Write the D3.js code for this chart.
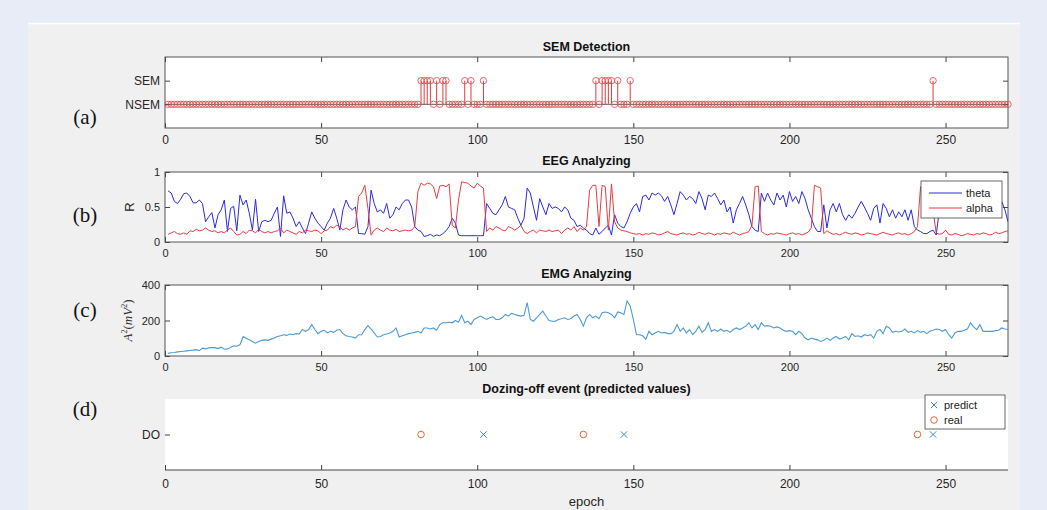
<!DOCTYPE html>
<html lang="en">
<head>
  <meta charset="UTF-8">
  <title>SEM / EEG / EMG / Dozing-off</title>
  <script src="https://d3js.org/d3.v7.min.js"></script>
  <style>
    body { margin: 0; background: #e8ecf6; }
    svg { display: block; font-family: "Liberation Sans", Arial, sans-serif; }
    .tick text { fill: #262626; font-size: 11px; }
    .narrow .tick text { font-family: "Liberation Sans Narrow", "Liberation Sans", Arial, sans-serif; font-size: 12px; }
    .tick line { stroke: #444; }
    .title { font-weight: bold; font-size: 12.5px; fill: #111; text-anchor: middle; }
    .plabel { font-family: "Liberation Serif", "Times New Roman", serif; font-size: 21px; fill: #111; text-anchor: middle; }
    .legend text { font-size: 11px; fill: #222; }
  </style>
</head>
<body>
  <div id="chart"></div>

  <script>
    // epochs 1..270
    const epochs = d3.range(1, 271);
    const xTicks = [0, 50, 100, 150, 200, 250];

    // (a) epochs flagged as SEM
    const semEpochs = [82, 83, 84, 85, 87, 89, 90, 96, 98, 102, 138, 140, 141, 142, 143, 145, 149, 246];

    // (b) EEG ratio per epoch
    const theta = [
      0.73,0.70,0.58,0.55,0.61,0.69,0.70,0.65,0.56,0.56,
      0.60,0.55,0.29,0.36,0.42,0.20,0.39,0.46,0.60,0.15,
      0.48,0.51,0.16,0.67,0.53,0.60,0.41,0.17,0.61,0.15,
      0.29,0.31,0.29,0.31,0.41,0.50,0.08,0.66,0.41,0.43,
      0.34,0.22,0.29,0.20,0.12,0.27,0.43,0.34,0.27,0.22,
      0.17,0.27,0.34,0.48,0.34,0.17,0.46,0.60,0.50,0.46,
      0.50,0.12,0.12,0.11,0.22,0.74,0.55,0.43,0.46,0.41,
      0.55,0.34,0.39,0.50,0.46,0.55,0.60,0.60,0.50,0.22,
      0.17,0.15,0.08,0.09,0.11,0.08,0.10,0.09,0.12,0.16,
      0.22,0.34,0.27,0.10,0.09,0.09,0.09,0.09,0.09,0.09,
      0.09,0.09,0.55,0.48,0.41,0.39,0.46,0.53,0.65,0.50,
      0.48,0.46,0.34,0.24,0.34,0.77,0.70,0.50,0.31,0.62,
      0.50,0.39,0.55,0.48,0.50,0.48,0.43,0.50,0.46,0.34,
      0.31,0.22,0.24,0.20,0.17,0.12,0.10,0.20,
      0.11,0.15,0.20,0.24,0.10,0.39,0.27,0.22,0.20,0.29,
      0.41,0.50,0.55,0.43,0.65,0.67,0.60,0.70,0.67,0.70,
      0.66,0.58,0.65,0.53,0.39,0.55,0.72,0.67,0.60,0.65,
      0.62,0.55,0.72,0.62,0.46,0.67,0.65,0.70,0.62,0.53,
      0.60,0.43,0.50,0.27,0.46,0.55,0.65,0.53,0.39,0.22,
      0.17,0.15,0.70,0.58,0.70,0.60,0.53,0.70,0.60,0.67,
      0.50,0.72,0.58,0.65,0.55,0.72,0.62,0.46,0.34,0.22,
      0.15,0.15,0.53,0.20,0.46,0.55,0.43,0.55,0.39,0.31,
      0.39,0.34,0.41,0.50,0.58,0.50,0.41,0.31,0.48,0.53,
      0.27,0.55,0.48,0.36,0.46,0.34,0.43,0.36,0.46,0.31,
      0.46,0.22,0.17,0.15,0.12,0.12,0.15,0.17,0.10,0.45,
      0.55,0.52,0.60,0.48,0.56,0.62,0.50,0.58,0.52,0.60,
      0.55,0.47,0.58,0.52,0.50,0.45,0.50,0.55,0.61,0.58,
      0.46,0.29
    ];
    const alpha = [
      0.11,0.13,0.15,0.12,0.11,0.13,0.11,0.16,0.15,0.18,
      0.16,0.17,0.20,0.17,0.15,0.16,0.13,0.15,0.13,0.17,
      0.20,0.15,0.10,0.11,0.15,0.12,0.17,0.16,0.13,0.18,
      0.15,0.13,0.15,0.13,0.15,0.16,0.20,0.13,0.17,0.15,
      0.13,0.11,0.15,0.13,0.17,0.16,0.15,0.17,0.16,0.12,
      0.16,0.17,0.22,0.20,0.24,0.22,0.17,0.20,0.17,0.20,
      0.22,0.65,0.70,0.81,0.48,0.10,0.17,0.20,0.17,0.15,
      0.20,0.17,0.16,0.18,0.15,0.16,0.17,0.16,0.17,0.22,
      0.72,0.84,0.81,0.84,0.83,0.79,0.62,0.80,0.81,0.79,
      0.83,0.24,0.20,0.60,0.86,0.85,0.84,0.80,0.77,0.84,
      0.80,0.77,0.15,0.20,0.17,0.22,0.20,0.17,0.16,0.22,
      0.20,0.17,0.20,0.24,0.15,0.12,0.15,0.17,0.13,0.17,
      0.16,0.15,0.17,0.15,0.16,0.17,0.12,0.17,0.20,0.17,
      0.22,0.15,0.20,0.17,0.22,0.74,0.81,0.81,
      0.22,0.81,0.79,0.17,0.83,0.29,0.20,0.17,0.16,0.15,
      0.13,0.12,0.11,0.12,0.10,0.12,0.11,0.13,0.12,0.10,
      0.11,0.13,0.15,0.12,0.11,0.10,0.12,0.13,0.11,0.12,
      0.10,0.11,0.14,0.12,0.11,0.13,0.12,0.10,0.12,0.11,
      0.13,0.12,0.11,0.14,0.12,0.10,0.12,0.13,0.15,0.24,
      0.79,0.80,0.15,0.12,0.10,0.12,0.11,0.13,0.12,0.11,
      0.10,0.12,0.13,0.11,0.12,0.10,0.12,0.14,0.20,0.81,
      0.79,0.77,0.12,0.16,0.13,0.11,0.12,0.10,0.12,0.14,
      0.12,0.11,0.13,0.12,0.10,0.11,0.13,0.12,0.11,0.10,
      0.12,0.14,0.12,0.11,0.10,0.12,0.13,0.11,0.12,0.10,
      0.12,0.15,0.22,0.79,0.80,0.80,0.79,0.45,0.13,0.11,
      0.12,0.17,0.11,0.10,0.12,0.11,0.09,0.10,0.12,0.11,
      0.10,0.12,0.11,0.13,0.12,0.10,0.11,0.14,0.12,0.13,
      0.15,0.16
    ];

    // (c) EMG power per epoch
    const emg = [
      15,18,20,23,25,27,29,31,33,36,
      30,44,40,46,48,47,42,50,38,40,
      48,57,55,63,110,100,91,82,72,82,
      88,91,88,95,101,110,114,120,116,124,
      120,126,124,149,139,149,177,149,126,139,
      145,130,139,133,145,149,126,114,110,107,
      101,120,120,149,171,152,130,107,110,120,
      124,130,139,158,107,114,120,126,130,133,
      139,130,158,158,152,158,145,177,187,187,
      190,187,200,190,229,187,196,177,206,215,
      225,215,206,215,221,206,206,215,234,225,
      240,234,229,225,229,301,206,196,215,235,
      253,225,200,196,196,206,210,215,206,210,
      225,234,206,168,215,234,215,225,
      210,244,248,244,234,215,248,244,234,310,
      282,206,120,120,114,95,139,120,130,139,
      130,133,126,126,139,177,139,158,130,149,
      120,139,168,133,149,187,139,149,139,152,
      139,145,133,149,158,149,158,168,187,158,
      177,149,187,168,171,168,158,164,158,145,
      139,143,139,120,139,126,101,91,101,95,
      91,82,88,101,88,101,110,95,101,110,
      91,126,110,114,107,120,114,120,101,139,
      149,126,168,158,133,139,135,139,152,133,
      139,130,143,133,139,126,139,145,152,149,
      139,149,120,101,130,139,139,145,152,187,
      164,149,177,139,139,139,139,143,145,158,
      152,149
    ];

    // (d) dozing-off events
    const predictEpochs = [102, 147, 246];
    const realEpochs = [82, 134, 241];

    const W = 1047, H = 510;
    const svg = d3.select("#chart").append("svg")
      .attr("width", W).attr("height", H);

    // figure background
    svg.append("rect").attr("x", 28).attr("y", 23).attr("width", 992).attr("height", H - 23)
      .attr("fill", "#f0f0f0");
    svg.append("line").attr("x1", 28).attr("x2", 1020).attr("y1", 23.5).attr("y2", 23.5)
      .attr("stroke", "#fff").attr("stroke-width", 1.5);

    const x = d3.scaleLinear().domain([0, 270]).range([165, 1008]);

    function frame(top, bottom, y, yTicks, yFmt, opts) {
      const g = svg.append("g").attr("class", opts.narrow ? "narrow" : null);
      g.append("rect").attr("x", x(0)).attr("y", top)
        .attr("width", x(270) - x(0)).attr("height", bottom - top)
        .attr("fill", "#fff");

      const xb = g.append("g").attr("transform", `translate(0,${bottom})`)
        .call(d3.axisBottom(x).tickValues(xTicks).tickSizeInner(-5).tickSizeOuter(0).tickPadding(opts.pad || 7));
      xb.select(".domain").remove();

      const yl = g.append("g").attr("transform", `translate(${x(0)},0)`)
        .call(d3.axisLeft(y).tickValues(yTicks).tickFormat(yFmt).tickSizeInner(-5).tickSizeOuter(0).tickPadding(5));
      yl.select(".domain").remove();

      if (opts.box) {
        const xt = g.append("g").attr("transform", `translate(0,${top})`)
          .call(d3.axisTop(x).tickValues(xTicks).tickSizeInner(-5).tickSizeOuter(0).tickFormat(""));
        xt.select(".domain").remove();
        const yr = g.append("g").attr("transform", `translate(${x(270)},0)`)
          .call(d3.axisRight(y).tickValues(yTicks).tickSizeInner(-5).tickSizeOuter(0).tickFormat(""));
        yr.select(".domain").remove();
        g.append("rect").attr("x", x(0)).attr("y", top)
          .attr("width", x(270) - x(0)).attr("height", bottom - top)
          .attr("fill", "none").attr("stroke", "#555").attr("stroke-width", 1);
      } else {
        g.append("line").attr("x1", x(0)).attr("x2", x(270))
          .attr("y1", bottom).attr("y2", bottom)
          .attr("stroke", "#444").attr("stroke-width", 1);
      }
      return g;
    }

    function title(txt, yPos) {
      svg.append("text").attr("class", "title").attr("x", (x(0) + x(270)) / 2).attr("y", yPos).text(txt);
    }
    function plabel(txt, yPos) {
      svg.append("text").attr("class", "plabel").attr("x", 85).attr("y", yPos).text(txt);
    }

    // ---------- (a) SEM Detection ----------
    const ya = d3.scaleLinear().domain([-1, 2]).range([128, 57]);
    frame(57, 128, ya, [0, 1], d => d ? "SEM" : "NSEM", {box: true, narrow: true, pad: 7});
    title("SEM Detection", 51);
    plabel("(a)", 124);

    const semSet = new Set(semEpochs);
    const semData = epochs.map(e => ({e, v: semSet.has(e) ? 1 : 0}));
    const ma = svg.append("g");
    ma.append("line").attr("x1", x(0)).attr("x2", x(270))
      .attr("y1", ya(0)).attr("y2", ya(0)).attr("stroke", "#333").attr("stroke-width", 0.8);
    ma.selectAll(".stem").data(semData.filter(d => d.v === 1)).join("line")
      .attr("x1", d => x(d.e)).attr("x2", d => x(d.e))
      .attr("y1", ya(0)).attr("y2", d => ya(d.v))
      .attr("stroke", "#e8383d").attr("stroke-width", 1);
    ma.selectAll("circle").data(semData).join("circle")
      .attr("cx", d => x(d.e)).attr("cy", d => ya(d.v)).attr("r", 3.2)
      .attr("fill", "none").attr("stroke", "#ee4a4f").attr("stroke-width", 1).attr("stroke-opacity", 0.85);

    // ---------- (b) EEG Analyzing ----------
    const yb = d3.scaleLinear().domain([0, 1]).range([242, 172]);
    frame(172, 242, yb, [0, 0.5, 1], d3.format("~g"), {box: true, pad: 7});
    title("EEG Analyzing", 165);
    plabel("(b)", 222);
    svg.append("text").attr("transform", `translate(134,${yb(0.5)}) rotate(-90)`)
      .attr("text-anchor", "middle").attr("font-size", 13).attr("fill", "#222").text("R");

    const lineB = d3.line().x((d, i) => x(epochs[i])).y(d => yb(d));
    svg.append("clipPath").attr("id", "clipb").append("rect")
      .attr("x", x(0)).attr("y", 172).attr("width", x(270) - x(0)).attr("height", 70);
    svg.append("path").datum(theta).attr("d", lineB).attr("fill", "none")
      .attr("stroke", "#2a2ae8").attr("stroke-width", 1).attr("clip-path", "url(#clipb)");
    svg.append("path").datum(alpha).attr("d", lineB).attr("fill", "none")
      .attr("stroke", "#ec3a40").attr("stroke-width", 1).attr("clip-path", "url(#clipb)");

    const lb = svg.append("g").attr("class", "legend");
    lb.append("rect").attr("x", 921).attr("y", 181).attr("width", 81).attr("height", 37)
      .attr("fill", "#fff").attr("stroke", "#444").attr("stroke-width", 0.8);
    [["theta", "#2a2ae8", 193], ["alpha", "#ec3a40", 208]].forEach(([t, c, yy]) => {
      lb.append("line").attr("x1", 929).attr("x2", 962).attr("y1", yy).attr("y2", yy)
        .attr("stroke", c).attr("stroke-width", 1);
      lb.append("text").attr("x", 966).attr("y", yy + 4).text(t);
    });

    // ---------- (c) EMG Analyzing ----------
    const yc = d3.scaleLinear().domain([0, 400]).range([356, 285]);
    frame(285, 356, yc, [0, 200, 400], d3.format("d"), {box: true, pad: 7});
    title("EMG Analyzing", 278);
    plabel("(c)", 317);
    const ylab = svg.append("text").attr("transform", `translate(132,${yc(200)}) rotate(-90)`)
      .attr("text-anchor", "middle").attr("font-family", "'Liberation Serif', 'Times New Roman', serif")
      .attr("font-size", 13).attr("fill", "#333");
    ylab.append("tspan").attr("font-style", "italic").text("A");
    ylab.append("tspan").attr("font-size", 8).attr("dy", -5).text("2");
    ylab.append("tspan").attr("dy", 5).text("(");
    ylab.append("tspan").attr("font-style", "italic").text("mV");
    ylab.append("tspan").attr("font-size", 8).attr("dy", -5).text("2");
    ylab.append("tspan").attr("dy", 5).text(")");

    svg.append("path").datum(emg)
      .attr("d", d3.line().x((d, i) => x(epochs[i])).y(d => yc(d)))
      .attr("fill", "none").attr("stroke", "#4d9bd5").attr("stroke-width", 1.1);

    // ---------- (d) Dozing-off event ----------
    const yd = d3.scaleLinear().domain([0, 2]).range([470, 399]);
    frame(399, 470, yd, [1], () => "DO", {box: false, narrow: true, pad: 9});
    title("Dozing-off event (predicted values)", 393);
    plabel("(d)", 416);
    svg.append("text").attr("x", (x(0) + x(270)) / 2).attr("y", 506).attr("text-anchor", "middle")
      .attr("font-size", 13).attr("fill", "#262626").text("epoch");

    const cross = d3.symbol().type(d3.symbolX).size(28);
    svg.selectAll(".pred").data(predictEpochs).join("path").attr("class", "pred")
      .attr("d", cross).attr("transform", d => `translate(${x(d)},${yd(1)})`)
      .attr("fill", "none").attr("stroke", "#3d8ad0").attr("stroke-width", 1);
    svg.selectAll(".real").data(realEpochs).join("circle").attr("class", "real")
      .attr("cx", d => x(d)).attr("cy", yd(1)).attr("r", 3.3)
      .attr("fill", "none").attr("stroke", "#dd6b3a").attr("stroke-width", 1);

    const ld = svg.append("g").attr("class", "legend");
    ld.append("rect").attr("x", 925).attr("y", 395).attr("width", 80).attr("height", 34)
      .attr("fill", "#fff").attr("stroke", "#444").attr("stroke-width", 0.8);
    ld.append("path").attr("d", cross).attr("transform", "translate(934,405)")
      .attr("fill", "none").attr("stroke", "#3d8ad0").attr("stroke-width", 1);
    ld.append("text").attr("x", 944).attr("y", 409).text("predict");
    ld.append("circle").attr("cx", 934).attr("cy", 420).attr("r", 3.3)
      .attr("fill", "none").attr("stroke", "#dd6b3a").attr("stroke-width", 1);
    ld.append("text").attr("x", 944).attr("y", 424).text("real");
  </script>
</body>
</html>
